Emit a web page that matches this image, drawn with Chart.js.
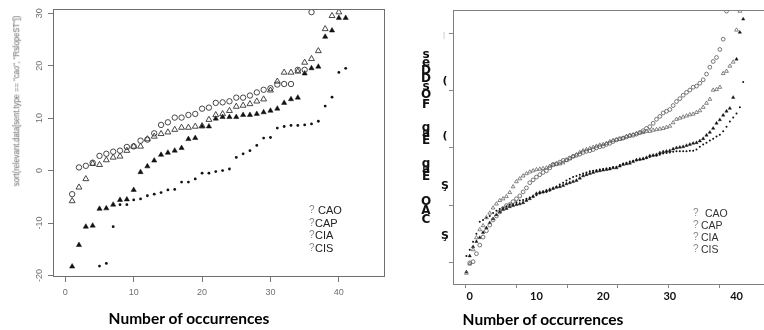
<!DOCTYPE html>
<html><head><meta charset="utf-8">
<script src="https://cdn.jsdelivr.net/npm/chart.js@4.4.1/dist/chart.umd.min.js"></script>
<style>
html,body{margin:0;padding:0;background:#fff;}
body{width:764px;height:330px;overflow:hidden;position:relative;font-family:'Liberation Sans',Arial,sans-serif;}
.abs{position:absolute;white-space:nowrap;line-height:1;}
#cL{position:absolute;left:0;top:0;width:392px;height:330px;}
#cR{position:absolute;left:392px;top:0;width:372px;height:330px;}
.ttl{font-family:Lato,'Open Sans',sans-serif;font-weight:bold;font-size:15.5px;color:#000;transform:translate(-50%,-50%);}
.lq{font-size:10px;color:#888;transform:translateY(-50%);}
.lt{font-size:11px;color:#222;transform:translateY(-50%);}
.lt2{font-size:10.5px;color:#333;transform:translateY(-50%);}
.gl{font-family:'DejaVu Sans',sans-serif;font-weight:bold;font-size:12px;color:#111;transform:translate(-50%,-50%);}
.gf{font-family:'DejaVu Sans',sans-serif;font-weight:bold;font-size:11px;color:#111;transform:translate(-50%,-50%);}
</style></head><body>
<canvas id="cL" width="392" height="330"></canvas>
<canvas id="cR" width="372" height="330"></canvas>
<script>
// ---------- left chart data ----------
const leftIdx = [1,2,3,4,5,6,7,8,9,10,11,12,13,14,15,16,17,18,19,20,21,22,23,24,25,26,27,28,29,30,31,32,33,34,35,36,37,38,39,40,41];
const caoL = [-4.5,0.6,0.9,1.5,2.8,3.2,3.6,3.8,4.5,4.6,5.7,5.9,7.1,8.7,9.2,10.1,10.1,10.6,10.8,11.8,12.0,12.9,13.0,13.2,13.9,13.9,14.3,14.9,15.4,15.7,16.4,16.5,16.5,19.2,19.2,30.2];
const capL = [-5.8,-3.2,-1.6,1.3,1.1,2.0,2.5,2.7,3.8,4.6,4.6,6.0,6.5,7.0,7.3,7.8,8.2,8.2,8.4,8.5,9.7,10.6,10.8,11.4,12.2,12.4,12.7,13.2,13.6,15.3,17.0,18.7,18.7,18.9,20.6,21.3,22.8,27.0,29.5,30.2];
const ciaL = [-18.3,-14.2,-10.7,-10.5,-7.3,-7.2,-6.5,-5.6,-5.5,-3.7,-0.3,0.8,1.9,3.0,3.4,3.8,4.3,6.0,6.2,8.4,8.4,9.9,10.2,10.2,10.2,10.6,10.6,10.8,11.1,11.4,11.8,12.9,13.6,13.9,18.5,19.5,19.8,25.5,26.7,29.1,29.1];
const cisL = [null,null,null,null,-18.2,-17.7,-10.7,-6.5,-6.5,-5.6,-5.4,-4.8,-4.5,-4.2,-3.7,-3.6,-2.2,-2.2,-1.6,-0.5,-0.5,-0.2,0.0,0.3,2.5,3.2,3.8,4.8,6.2,6.3,8.1,8.4,8.6,8.6,8.7,8.9,9.4,12.3,14.0,18.7,19.5];
const leftXTicks = [0,10,20,30,40];
const leftYTicks = [-20,-10,0,10,20,30];

// ---------- right chart data ----------
const rightX = [-0.5,0,0.5,1,1.5,2,2.5,3,3.5,4,
  4.5,5,5.5,6,6.5,7,7.5,8,8.5,9,
  9.5,10,10.5,11,11.5,12,12.5,13,13.5,14,
  14.5,15,15.5,16,16.5,17,17.5,18,18.5,19,
  19.5,20,20.5,21,21.5,22,22.5,23,23.5,24,
  24.5,25,25.5,26,26.5,27,27.5,28,28.5,29,
  29.5,30,30.5,31,31.5,32,32.5,33,33.5,34,
  34.5,35,35.5,36,36.5,37,37.5,38,38.5,39,
  39.5,40,40.5,41];
const caoR = [null,-20.1,-19.9,-18.5,-17.0,-15.6,-14.5,-13.5,-12.6,-11.9,
  -11.2,-10.6,-10.1,-9.9,-9.4,-8.9,-8.4,-7.7,-7.0,-6.1,
  -5.6,-5.1,-4.7,-4.3,-4.0,-3.5,-2.9,-2.8,-2.5,-2.2,
  -2.1,-1.8,-1.5,-1.3,-1.1,-0.8,-0.6,-0.5,-0.3,0.0,
  0.2,0.3,0.6,0.8,1.1,1.4,1.6,1.7,1.9,2.1,
  2.2,2.4,2.7,3.0,3.4,3.7,4.3,5.0,5.5,6.1,
  6.4,6.7,7.4,8.1,8.6,9.2,9.7,10.1,10.6,10.8,
  11.3,11.9,12.9,14.1,15.1,15.8,17.2,19.0,23.9,null,
  null,null,null,null];
const capR = [-21.9,-20.3,-17.8,-15.7,-14.3,-13.6,-12.2,-11.4,-10.5,-9.8,
  -9.2,-8.9,-8.5,-7.8,-6.8,-5.9,-5.4,-4.9,-4.5,-4.2,
  -4.0,-3.8,-3.7,-3.6,-3.5,-3.2,-3.0,-2.8,-2.8,-2.6,
  -2.2,-1.9,-1.5,-1.2,-0.8,-0.5,-0.3,-0.1,0.1,0.3,
  0.5,0.6,0.8,1.1,1.3,1.4,1.5,1.7,2.0,2.2,
  2.3,2.5,2.6,2.7,2.9,2.9,3.1,3.2,3.3,3.4,
  3.6,3.8,4.4,5.0,5.2,5.4,5.6,5.8,5.9,6.2,
  6.5,7.1,7.8,8.5,10.1,10.2,10.6,13.0,13.4,14.3,
  15.0,20.6,23.9,null];
const ciaR = [-21.7,-18.9,-17.3,-16.4,-15.7,-14.8,-14.0,-13.1,-12.4,-11.7,
  -11.2,-10.8,-10.6,-10.3,-10.1,-9.9,-9.8,-9.6,-9.2,-8.9,
  -8.5,-8.0,-7.8,-7.7,-7.5,-7.3,-7.1,-6.9,-6.8,-6.6,
  -6.3,-6.1,-5.9,-5.7,-5.3,-4.9,-4.7,-4.5,-4.3,-4.1,
  -4.0,-3.9,-3.8,-3.7,-3.5,-3.5,-3.2,-2.9,-2.8,-2.7,
  -2.4,-2.1,-2.0,-1.9,-1.7,-1.4,-1.3,-1.2,-0.9,-0.7,
  -0.6,-0.5,-0.2,0.0,0.1,0.2,0.4,0.6,0.8,0.9,
  1.2,1.6,2.2,2.7,3.4,4.3,4.9,5.7,6.4,6.9,
  8.8,15.5,20.2,22.5];
const cisR = [-18.9,-17.8,-16.4,-15.0,-12.9,-12.6,-12.2,-11.9,-11.4,-11.0,
  -10.7,-10.5,-10.2,-9.9,-9.8,-9.5,-9.2,-9.1,-8.9,-8.7,
  -8.5,-8.3,-8.0,-7.8,-7.7,-7.5,-7.1,-6.8,-6.4,-6.1,
  -5.7,-5.4,-5.1,-4.9,-4.7,-4.5,-4.3,-4.1,-4.0,-3.9,
  -3.8,-3.7,-3.6,-3.5,-3.4,-3.3,-3.0,-2.8,-2.6,-2.4,
  -2.3,-2.2,-2.1,-2.0,-1.8,-1.6,-1.4,-1.4,-1.2,-1.0,
  -0.9,-0.8,-0.7,-0.6,-0.6,-0.6,-0.6,-0.5,-0.5,-0.3,
  0.2,0.6,0.9,1.3,1.6,2.0,2.3,2.9,3.7,4.6,
  5.3,6.0,7.1,11.5];
const rightXLabels = [0,10,20,30,40];
const rightXMarks = [0,10,20,30,40,50];
const rightYMarks = [-20,-10,0,10,20];
const seriesNames = ['CAO','CAP','CIA','CIS'];

function pts(xs, ys){ const out=[]; ys.forEach((y,i)=>{ if(y!==null) out.push({x:xs[i], y:y}); }); return out; }
function fixTicks(list){ return s => { s.ticks = list.map(v=>({value:v})); }; }

const boxPlugin = {
  id:'box',
  afterDraw(chart, args, opts){
    const {ctx, chartArea:a} = chart;
    ctx.save();
    ctx.strokeStyle = opts.color || '#666';
    ctx.lineWidth = 1;
    ctx.strokeRect(Math.round(a.left)+0.5, Math.round(a.top)+0.5, Math.round(a.right-a.left)+(opts.extend||0), Math.round(a.bottom-a.top));
    ctx.restore();
  }
};

const clear = 'rgba(0,0,0,0)';

new Chart(document.getElementById('cL'), {
  type:'scatter',
  data:{datasets:[
    {label:seriesNames[0], data:pts(leftIdx, caoL), pointStyle:'circle', radius:2.7, borderColor:'#333', backgroundColor:clear, borderWidth:0.9},
    {label:seriesNames[1], data:pts(leftIdx, capL), pointStyle:'triangle', radius:3.4, borderColor:'#333', backgroundColor:clear, borderWidth:0.9},
    {label:seriesNames[2], data:pts(leftIdx, ciaL), pointStyle:'triangle', radius:3.0, borderColor:'#111', backgroundColor:'#111', borderWidth:0.5},
    {label:seriesNames[3], data:pts(leftIdx, cisL), pointStyle:'circle', radius:1.4, borderColor:'#111', backgroundColor:'#111', borderWidth:0}
  ]},
  options:{
    responsive:false, animation:false, events:[],
    layout:{padding:{top:9, right:8, left:0, bottom:0}},
    plugins:{legend:{display:false}, tooltip:{enabled:false}, box:{color:'#6e6e6e'}},
    scales:{
      x:{type:'linear', min:-1.8, max:46.6, afterBuildTicks:fixTicks(leftXTicks), afterFit:s=>{s.height=54;},
         grid:{drawOnChartArea:false, drawTicks:true, tickLength:6, color:'#777'},
         border:{display:false},
         ticks:{color:'#707070', font:{family:'Liberation Sans', size:9}, padding:5, minRotation:0, maxRotation:0, autoSkip:false}},
      y:{type:'linear', min:-20.1, max:30.8, afterBuildTicks:fixTicks(leftYTicks), afterFit:s=>{s.width=53;},
         grid:{drawOnChartArea:false, drawTicks:true, tickLength:5, color:'#777'},
         border:{display:false},
         ticks:{color:'#707070', font:{family:'Liberation Sans', size:9}, padding:2, minRotation:90, maxRotation:90, crossAlign:'center', autoSkip:false}}
    }
  },
  plugins:[boxPlugin]
});

new Chart(document.getElementById('cR'), {
  type:'scatter',
  data:{datasets:[
    {label:seriesNames[0], data:pts(rightX, caoR), xAxisID:'x', pointStyle:'circle', radius:1.9, borderColor:'#555', backgroundColor:clear, borderWidth:0.8},
    {label:seriesNames[1], data:pts(rightX, capR), xAxisID:'x', pointStyle:'triangle', radius:2.2, borderColor:'#666', backgroundColor:clear, borderWidth:0.8},
    {label:seriesNames[2], data:pts(rightX, ciaR), xAxisID:'x', pointStyle:'triangle', radius:1.9, borderColor:'#111', backgroundColor:'#111', borderWidth:0.4},
    {label:seriesNames[3], data:pts(rightX, cisR), xAxisID:'x', pointStyle:'circle', radius:1.0, borderColor:'#111', backgroundColor:'#111', borderWidth:0}
  ]},
  options:{
    responsive:false, animation:false, events:[],
    layout:{padding:{top:10, right:0, left:0, bottom:0}},
    plugins:{legend:{display:false}, tooltip:{enabled:false}, box:{color:'#808080', extend:6}},
    scales:{
      xt:{type:'linear', position:'bottom', weight:0, min:-2.52, max:57.9, afterBuildTicks:fixTicks(rightXMarks), afterFit:s=>{s.height=4;},
          grid:{drawOnChartArea:false, drawTicks:true, tickLength:4, color:'#888'}, border:{display:false}, ticks:{display:false}},
      x:{type:'linear', position:'bottom', weight:1, min:-2.51, max:43.4, afterBuildTicks:fixTicks(rightXLabels), afterFit:s=>{s.height=42;},
          grid:{display:false, drawTicks:false}, border:{display:false},
          ticks:{color:'#111', font:{family:'Lato', weight:'bold', size:11}, padding:2, minRotation:0, maxRotation:0, autoSkip:false}},
      y:{type:'linear', min:-23.8, max:24.1, afterBuildTicks:fixTicks(rightYMarks), afterFit:s=>{s.width=61;},
          grid:{drawOnChartArea:false, drawTicks:true, tickLength:4, color:'#888'}, border:{display:false}, ticks:{display:false}}
    }
  },
  plugins:[boxPlugin]
});
</script>

<!-- left y-axis title -->
<div class="abs" style="left:16px;top:101px;transform:translate(-50%,-50%) rotate(-90deg) scaleX(0.8);font-family:'Liberation Sans',sans-serif;font-size:9.5px;color:#666;">sort(relevant.data[sent.type == "cao", "RslopeST"])</div>

<!-- left legend -->
<div class="abs lq" style="left:309px;top:210px;">?</div><div class="abs lt" style="left:318px;top:210px;">CAO</div>
<div class="abs lq" style="left:309px;top:222.5px;">?</div><div class="abs lt" style="left:315px;top:222.5px;">CAP</div>
<div class="abs lq" style="left:309px;top:235px;">?</div><div class="abs lt" style="left:315px;top:235px;">CIA</div>
<div class="abs lq" style="left:309px;top:247.5px;">?</div><div class="abs lt" style="left:315px;top:247.5px;">CIS</div>

<!-- right legend -->
<div class="abs lq" style="left:693px;top:213px;">?</div><div class="abs lt2" style="left:705px;top:213px;">CAO</div>
<div class="abs lq" style="left:693px;top:224.5px;">?</div><div class="abs lt2" style="left:701px;top:224.5px;">CAP</div>
<div class="abs lq" style="left:693px;top:236.5px;">?</div><div class="abs lt2" style="left:701px;top:236.5px;">CIA</div>
<div class="abs lq" style="left:693px;top:248.5px;">?</div><div class="abs lt2" style="left:701px;top:248.5px;">CIS</div>

<!-- garbled right y-axis title -->
<div class="abs gl" style="left:426px;top:54px;">s</div>
<div class="abs gl" style="left:426px;top:62px;">e</div>
<div class="abs gl" style="left:426px;top:70px;">D</div>
<div class="abs gl" style="left:426px;top:78px;">D</div>
<div class="abs gl" style="left:426px;top:86px;">s</div>
<div class="abs gl" style="left:426px;top:94px;">O</div>
<div class="abs gl" style="left:426px;top:104px;">F</div>
<div class="abs gl" style="left:426px;top:127px;">g</div>
<div class="abs gl" style="left:426px;top:133px;">a</div>
<div class="abs gl" style="left:426px;top:140px;">E</div>
<div class="abs gl" style="left:426px;top:163px;">g</div>
<div class="abs gl" style="left:426px;top:169px;">a</div>
<div class="abs gl" style="left:426px;top:176px;">E</div>
<div class="abs gl" style="left:426px;top:201px;">O</div>
<div class="abs gl" style="left:426px;top:210px;">A</div>
<div class="abs gl" style="left:426px;top:219px;">C</div>

<!-- garbled right y tick fragments -->
<div class="abs" style="left:443px;top:31px;font-size:8px;color:#bbb;">|</div>
<div class="abs gf" style="left:445px;top:80px;">(</div>
<div class="abs gf" style="left:445px;top:135px;">(</div>
<div class="abs gf" style="left:445px;top:185px;">Ş</div>
<div class="abs gf" style="left:445px;top:235px;">Ş</div>

<!-- axis titles -->
<div class="abs ttl" style="left:189px;top:319px;">Number of occurrences</div>
<div class="abs ttl" style="left:543px;top:320px;">Number of occurrences</div>
</body></html>
